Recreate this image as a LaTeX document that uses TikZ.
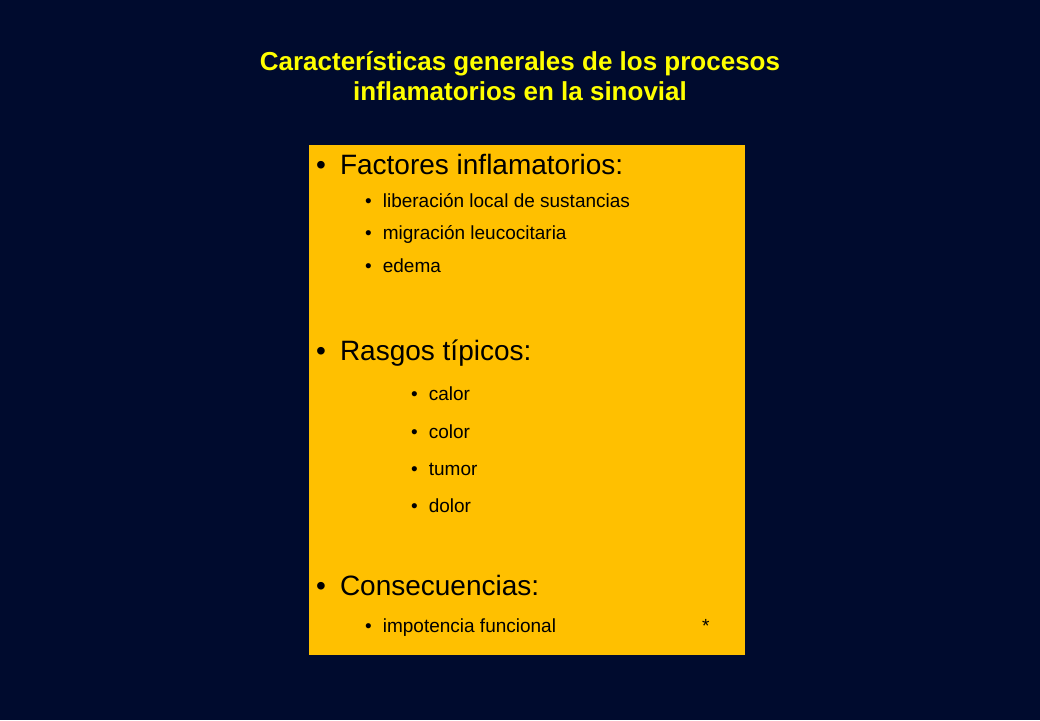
\documentclass[tikz,border=0pt]{standalone}
\usepackage{fontspec}
\setmainfont{Liberation Sans}
\definecolor{slidebg}{RGB}{0,11,46}
\definecolor{boxyellow}{RGB}{255,192,0}
\definecolor{titleyellow}{RGB}{255,255,0}
\begin{document}
\begin{tikzpicture}
    [
        x=1pt, y=-1pt,
        title/.style={font=\fontsize{26}{30}\selectfont\bfseries, text=titleyellow, align=center},
        head/.style={anchor=base west, inner sep=0pt, font=\fontsize{28}{32}\selectfont},
        item/.style={anchor=base west, inner sep=0pt, font=\fontsize{19}{22}\selectfont}
    ]

    \fill[slidebg] (0,0) rectangle (1040,720);
    \useasboundingbox (0,0) rectangle (1040,720);
    \fill[boxyellow] (309,145) rectangle (745,655);

    \node[title] (title) at (520,76) {Características generales de los procesos\\inflamatorios en la sinovial};

    \node[head] (factores) at (316,174) {•\hspace{14pt}Factores inflamatorios:};
    \node[item] (liberacion) at (365,207) {•\hspace{11pt}liberación local de sustancias};
    \node[item] (migracion) at (365,239) {•\hspace{11pt}migración leucocitaria};
    \node[item] (edema) at (365,272) {•\hspace{11pt}edema};

    \node[head] (rasgos) at (316,360) {•\hspace{14pt}Rasgos típicos:};
    \node[item] (calor) at (411,400) {•\hspace{11pt}calor};
    \node[item] (color) at (411,438) {•\hspace{11pt}color};
    \node[item] (tumor) at (411,475) {•\hspace{11pt}tumor};
    \node[item] (dolor) at (411,512) {•\hspace{11pt}dolor};

    \node[head] (consec) at (316,595) {•\hspace{14pt}Consecuencias:};
    \node[item] (impotencia) at (365,632) {•\hspace{11pt}impotencia funcional};
    \node[item] (star) at (702,632) {*};
\end{tikzpicture}
\end{document}
